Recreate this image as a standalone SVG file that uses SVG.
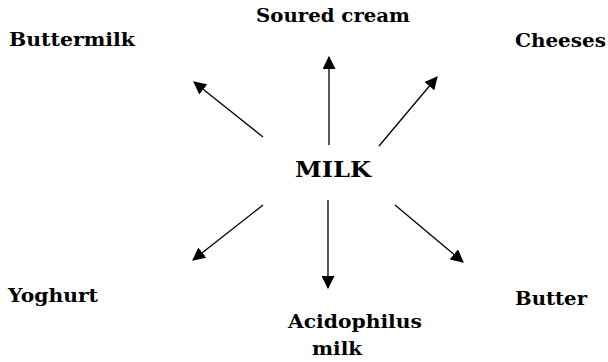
<svg xmlns="http://www.w3.org/2000/svg" width="608" height="362" viewBox="0 0 608 362">
<style>
.lbl{font-family:"DejaVu Serif","Liberation Serif",serif;font-weight:bold;font-size:19px;fill:#000}
.big{font-size:23px}
.c{stroke:#000;stroke-width:1.3;fill:none;marker-end:url(#ah)}
</style>
<defs>
<marker id="ah" viewBox="0 0 12 12" refX="11" refY="6" markerWidth="13" markerHeight="13" markerUnits="userSpaceOnUse" orient="auto">
<path d="M0,0 L12,6 L0,12 Z" fill="#000"/>
</marker>
</defs>
<rect width="608" height="362" fill="#fff"/>
<g id="connectors">
<line class="c" x1="329" y1="145" x2="329" y2="57"/>
<line class="c" x1="263" y1="137" x2="194" y2="82"/>
<line class="c" x1="379" y1="146" x2="437" y2="77"/>
<line class="c" x1="263" y1="205" x2="193" y2="260"/>
<line class="c" x1="328" y1="200" x2="328" y2="288"/>
<line class="c" x1="395" y1="205" x2="463" y2="262"/>
</g>
<g id="milk"><text class="lbl big" x="295" y="177" textLength="76" lengthAdjust="spacingAndGlyphs">MILK</text></g>
<g id="soured-cream"><text class="lbl" x="256" y="22" textLength="154" lengthAdjust="spacingAndGlyphs">Soured cream</text></g>
<g id="buttermilk"><text class="lbl" x="9" y="46" textLength="126" lengthAdjust="spacingAndGlyphs">Buttermilk</text></g>
<g id="cheeses"><text class="lbl" x="515" y="47" textLength="91" lengthAdjust="spacingAndGlyphs">Cheeses</text></g>
<g id="yoghurt"><text class="lbl" x="8" y="302" textLength="90" lengthAdjust="spacingAndGlyphs">Yoghurt</text></g>
<g id="butter"><text class="lbl" x="515" y="305" textLength="72" lengthAdjust="spacingAndGlyphs">Butter</text></g>
<g id="acidophilus-milk"><text class="lbl" x="288" y="328" textLength="134" lengthAdjust="spacingAndGlyphs">Acidophilus</text><text class="lbl" x="312" y="355" textLength="50" lengthAdjust="spacingAndGlyphs">milk</text></g>
</svg>
